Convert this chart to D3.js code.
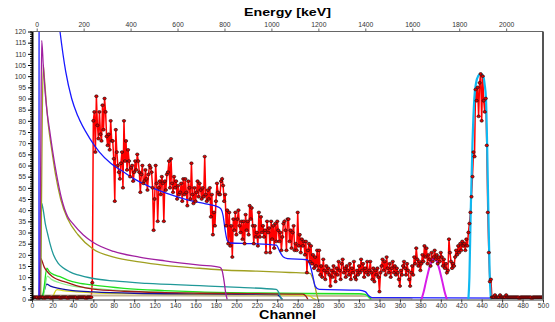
<!DOCTYPE html>
<html>
<head>
<meta charset="utf-8">
<script src="https://cdn.jsdelivr.net/npm/d3@7"></script>
<style>
  body { margin: 0; background: #fff; }
  svg { display: block; }
</style>
</head>
<body>
<svg width="555" height="322"></svg>
<script>
// measured counts, one value per channel
var lowCounts = [ // ch 0-58
  0, 1, 1, 1, 1, 1, 0, 1, 1, 1,
  1, 1, 0, 1, 1, 1, 1, 1, 1, 0,
  1, 1, 1, 1, 1, 1, 1, 1, 0, 1,
  1, 1, 1, 1, 1, 0, 1, 1, 1, 1,
  1, 1, 1, 1, 0, 1, 1, 1, 1, 1,
  1, 1, 1, 0, 1, 1, 1, 1, 1
]
var spectrumCounts = [ // ch 59-450
  7.5, 80, 84, 66, 91, 78, 72, 84, 74, 71,
  87, 76, 90, 84, 73, 69, 74, 67, 80, 71,
  71, 63, 44, 76, 66, 60, 57, 54, 61, 66,
  50, 80, 62, 71, 58, 67, 62, 55, 59, 60,
  53, 57, 62, 58, 65, 62, 57, 48, 56, 60,
  52, 53, 58, 54, 49, 56, 60, 59, 57, 50,
  31, 45, 60, 52, 35, 50, 53, 47, 55, 52,
  35, 53, 49, 56, 57, 62, 50, 63, 52, 48,
  55, 50, 53, 45, 51, 47, 48, 52, 44, 54,
  47, 54, 48, 42, 53, 50, 45, 61, 47, 43,
  50, 44, 48, 53, 46, 52, 49, 45, 50, 46,
  64, 47, 44, 49, 45, 50, 37, 47, 29, 39,
  33, 44, 52, 48, 47, 47, 53, 54, 51, 44,
  47, 33, 40, 25, 39, 24, 33, 19, 36, 31,
  39, 29, 36, 40, 33, 30, 35, 27, 35, 25,
  38, 31, 35, 29, 42, 36, 41, 33, 25, 33,
  28, 30, 24, 39, 28, 37, 30, 33, 28, 31,
  21, 35, 30, 32, 21, 35, 27, 33, 23, 34,
  26, 35, 31, 26, 30, 22, 28, 34, 35, 31,
  22, 36, 36, 26, 31, 23, 30, 33, 22, 25,
  22, 39, 24, 29, 21, 27, 24, 26, 20, 26,
  12, 22, 25, 17, 24, 16, 20, 14, 19, 15,
  22, 13, 22, 11, 15, 10, 18, 13, 9, 15,
  12, 14, 11, 6, 13, 10, 15, 12, 8, 14,
  11, 17, 13, 9, 16, 18, 12, 14, 10, 15,
  13, 11, 16, 9, 14, 12, 17, 10, 9, 13,
  11, 15, 12, 18, 13, 16, 10, 14, 12, 17,
  11, 13, 17, 12, 9, 14, 8, 13, 11, 14,
  10, 3.5, 12, 15, 18, 13, 17, 11, 19, 14,
  12, 16, 10, 14, 17, 12, 15, 11, 14, 12,
  9, 6, 13, 11, 15, 17, 14, 11, 16, 13,
  9, 6, 12, 15, 11, 19, 16, 23, 18, 15,
  17, 13, 16, 20, 17, 24, 19, 23, 16, 20,
  18, 15, 21, 17, 19, 22, 18, 20, 16, 19,
  17, 21, 19, 15, 18, 14, 16, 12, 13, 27,
  21, 17, 14, 16, 15, 19, 22, 20, 24, 21,
  25, 22, 26, 24, 25, 22, 27, 24, 30, 34,
  39, 46, 55, 66, 64, 94, 89, 95, 82, 97,
  101, 80, 100, 89, 84, 90, 69, 39, 21, 8,
  9, 1
]
var tailCounts = [ // ch 451-500
  1, 1, 2, 1, 1, 1, 1, 2, 1, 1,
  1, 1, 1, 2, 1, 1, 1, 1, 1, 1,
  1, 1, 1, 1, 1, 1, 0, 1, 1, 1,
  1, 1, 1, 1, 1, 1, 1, 1, 0, 1,
  1, 1, 1, 1, 1, 1, 1, 1, 1, 1
]

// fit components as [channel, counts]
var backgroundFit = [[6.8, 0], [7.2, 300], [12, 220], [18, 165], [23, 138], [27.4, 120], [33, 102],
  [38.8, 90], [45, 82], [56, 72.5], [66, 66], [77, 61], [90, 57], [100, 54], [115, 50.5], [132, 47.5],
  [153, 44.5], [170, 42.8], [182, 41.5], [185, 40.5], [187, 37.5], [189, 31], [191, 26.5], [194, 25.3],
  [215, 25], [239, 24.3], [243, 21], [246, 19], [250, 18.3], [269, 17.8], [272, 15.5], [275, 10],
  [277, 6], [281, 4.5], [320, 4.2], [326, 3.5], [330, 1.5], [333, 0.8], [500, 0.6]]
var comptonA = [[7.5, 0], [8.5, 60], [9.5, 116], [11, 105], [13, 92], [15, 83], [17.5, 75], [20, 67],
  [24, 56], [29, 45], [35, 37], [40, 34], [50, 29], [60, 25.5], [80, 21.5], [105, 19], [130, 17.3],
  [164, 15.4], [184, 14.4], [186, 13], [188, 8], [189.5, 3], [191, 0]]
var comptonB = [[8.5, 0], [10, 80], [11, 105], [12, 100], [14, 88], [16, 78], [19, 68], [23, 56],
  [28, 45], [35, 36], [45, 29], [60, 22.5], [80, 19], [105, 16.8], [130, 15.3], [164, 14], [187, 13.2],
  [220, 12.7], [252, 12.1], [272, 11.7], [275, 9], [277, 5.7], [279, 1.5], [280, 0]]
var comptonC = [[8, 0], [9.5, 43], [11, 40], [13, 34], [15.5, 29], [17.6, 25], [21, 20], [25.7, 16.2],
  [30, 14.3], [37, 12.4], [45, 11], [60, 9.4], [80, 8.3], [112, 7.2], [164, 6.2], [203, 5.4],
  [239, 4.5], [241, 3.5], [243, 1.2], [245, 0]]
var comptonD = [[7, 0], [8.5, 18.5], [10, 17], [12, 14.5], [14.4, 12.8], [17.6, 11.2], [22, 9.6],
  [28, 8.5], [34, 7.7], [45, 6], [60, 4.6], [90, 3.7], [130, 3.1], [164, 2.8], [220, 2.6], [265, 2.4],
  [268, 1.5], [270, 0]]
var comptonE = [[10, 0], [12, 6], [14.5, 14], [17, 12.5], [22, 11], [27.4, 10.2], [35, 8.7], [45, 7.4],
  [60, 6.4], [90, 5], [130, 4], [164, 3.4], [220, 2.9], [320, 2.6], [326, 2.3], [330, 1], [332, 0]]
var comptonF = [[10.5, 0], [12.5, 5], [15, 10.5], [19, 9], [27, 7.5], [40, 6], [60, 5], [90, 4],
  [130, 3.3], [164, 3], [240, 2.5], [322, 2.3], [328, 1.5], [331, 0]]
var comptonG = [[9.5, 0], [12, 4], [14.4, 6.9], [18, 6], [27.4, 4.9], [40, 4], [60, 3.4], [100, 2.8],
  [164, 2.5], [240, 2.2], [243, 1], [245, 0]]
var comptonH = [[20, 0], [22, 3], [24.5, 4.4], [30, 4], [45, 3.4], [60, 3], [100, 2.6], [164, 2.3],
  [270, 2], [275, 0.5], [278, 0]]
var pedestal = [[5, 0], [6, 1.8], [100, 1.8], [200, 1.7], [329, 1.6], [332, 0.7], [370, 0.7], [372, 0]]
var smallPeak = [[381, 0], [383, 3], [385, 7], [387, 11], [389, 14.5], [391, 17], [393.5, 18.2],
  [396, 17], [398, 14.5], [400, 11], [402, 7], [404, 3], [406, 0]]
var mainPeak = [[427, 0], [428, 10], [429.3, 40], [431, 70], [432.8, 90], [434.5, 97], [436.5, 100],
  [439, 101], [441.5, 100], [443, 96], [444.2, 90], [445.3, 70], [446.5, 40], [447.8, 12], [449, 0]]

var yTicks = d3.range(0, 121, 5)
var xTicks = d3.range(0, 501, 20)
var energyTicks = d3.range(0, 2001, 200)
var energyAtEnds = [-20, 2157] // keV at channel 0 and 500

var counts = lowCounts.concat(spectrumCounts, tailCounts)
var points = counts.map((v, i) => [i, v])

var svg = d3.select('svg')
var x = d3.scaleLinear().domain([0, 500]).range([32, 543])
var y = d3.scaleLinear().domain([0, 120]).range([299.5, 31.5])
var xe = d3.scaleLinear().domain(energyAtEnds).range([32, 543])

svg.append('clipPath').attr('id', 'clip')
  .append('rect')
  .attr('x', x(0)).attr('y', y(120))
  .attr('width', x(500) - x(0)).attr('height', y(0) - y(120))

var plot = svg.append('g').attr('clip-path', 'url(#clip)')

var line = d3.line().x(d => x(d[0])).y(d => y(d[1]))
var smooth = d3.line().x(d => x(d[0])).y(d => y(d[1])).curve(d3.curveMonotoneX)

// data line under the fit curves
plot.append('path')
  .attr('d', line(points))
  .attr('fill', 'none')
  .attr('stroke', '#ff0000')
  .attr('stroke-width', 1.5)

var curves = [
  { pts: pedestal, color: '#c8b898', w: 2 },
  { pts: comptonH, color: '#d8d820', w: 1.3 },
  { pts: comptonG, color: '#1010a0', w: 1.3 },
  { pts: comptonF, color: '#90f090', w: 1.3 },
  { pts: comptonE, color: '#20e020', w: 1.3 },
  { pts: comptonD, color: '#a01818', w: 1.3 },
  { pts: comptonC, color: '#209898', w: 1.3 },
  { pts: comptonB, color: '#a0a020', w: 1.3 },
  { pts: comptonA, color: '#a020a0', w: 1.3 },
  { pts: backgroundFit, color: '#1818ff', w: 1.3 },
  { pts: smallPeak, color: '#d81ce8', w: 2 },
  { pts: mainPeak, color: '#10b8f0', w: 2.2 }
]

plot.selectAll('path.fit')
  .data(curves)
  .enter()
  .append('path')
  .attr('class', 'fit')
  .attr('d', d => smooth(d.pts))
  .attr('fill', 'none')
  .attr('stroke', d => d.color)
  .attr('stroke-width', d => d.w)

// markers on top
plot.selectAll('ellipse')
  .data(points)
  .enter()
  .append('ellipse')
  .attr('cx', d => x(d[0]))
  .attr('cy', d => y(d[1]))
  .attr('rx', 1.7)
  .attr('ry', 1.4)
  .attr('fill', '#e00000')
  .attr('stroke', '#111')
  .attr('stroke-width', 0.6)

// axes
function styleAxis(g, color) {
  g.selectAll('text')
    .attr('font-family', 'Liberation Sans, Arial, sans-serif')
    .attr('font-size', 6.8)
    .style('fill', '#333')
  g.selectAll('line').attr('stroke', color)
  g.select('.domain').attr('stroke', color)
}

svg.append('g')
  .attr('transform', 'translate(0,' + y(0) + ')')
  .call(d3.axisBottom(x).tickValues(xTicks).tickSize(3).tickPadding(1).tickSizeOuter(0))
  .call(g => styleAxis(g, '#333'))

svg.append('g')
  .attr('transform', 'translate(0,' + y(120) + ')')
  .call(d3.axisTop(xe).tickValues(energyTicks).tickFormat(d3.format('d'))
    .tickSize(3).tickPadding(2).tickSizeOuter(0))
  .call(g => g.select('.domain').attr('d', 'M' + x(0) + ',0H' + x(500)))
  .call(g => styleAxis(g, '#666'))

// minor ticks on the counts axis
svg.append('g')
  .attr('transform', 'translate(' + x(0) + ',0)')
  .call(d3.axisLeft(y).tickValues(d3.range(0, 121, 1)).tickSize(2).tickFormat('').tickSizeOuter(0))
  .call(g => g.select('.domain').remove())
  .call(g => g.selectAll('line').attr('stroke', '#000'))

svg.append('g')
  .attr('transform', 'translate(' + x(0) + ',0)')
  .call(d3.axisLeft(y).tickValues(yTicks).tickSize(4).tickPadding(2).tickSizeOuter(0))
  .call(g => styleAxis(g, '#000'))
  .call(g => g.select('.domain').attr('stroke-width', 2))

// right frame
svg.append('line')
  .attr('x1', x(500)).attr('x2', x(500))
  .attr('y1', y(120)).attr('y2', y(0))
  .attr('stroke', '#555')
  .attr('stroke-width', 2)

// titles
svg.append('text')
  .attr('x', (x(0) + x(500)) / 2)
  .attr('y', 16)
  .attr('text-anchor', 'middle')
  .attr('font-family', 'Liberation Sans, Arial, sans-serif')
  .attr('font-weight', 'bold')
  .attr('font-size', 11.5)
  .attr('textLength', 87)
  .attr('lengthAdjust', 'spacingAndGlyphs')
  .text('Energy [keV]')

svg.append('text')
  .attr('x', (x(0) + x(500)) / 2)
  .attr('y', 319)
  .attr('text-anchor', 'middle')
  .attr('font-family', 'Liberation Sans, Arial, sans-serif')
  .attr('font-weight', 'bold')
  .attr('font-size', 12.5)
  .attr('textLength', 57)
  .attr('lengthAdjust', 'spacingAndGlyphs')
  .text('Channel')
</script>
</body>
</html>
